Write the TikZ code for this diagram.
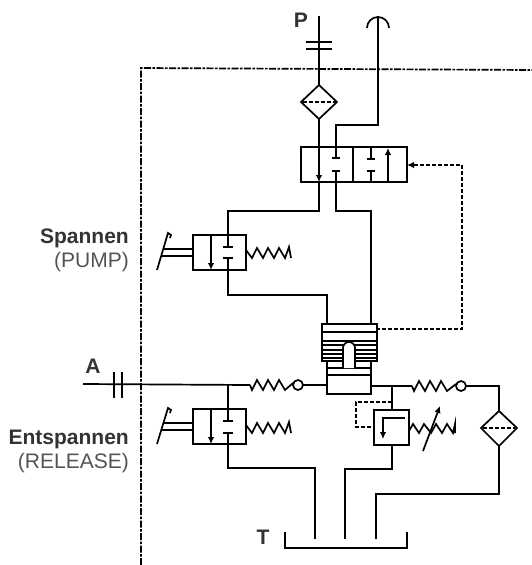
\documentclass[tikz,border=0pt]{standalone}
\usepackage{fontspec}
\setmainfont{Liberation Sans}
\usetikzlibrary{arrows.meta}
\definecolor{labelgray}{gray}{0.2}
\definecolor{notegray}{gray}{0.33}
\tikzset{
    pipe/.style={black, line width=1.7pt, line join=miter},
    pilot/.style={black, line width=1.5pt, dash pattern=on 4pt off 2pt},
    border/.style={black, line width=1.7pt, dash pattern=on 7pt off 1.5pt on 2.5pt off 1.5pt},
    tip/.style={-{Latex[length=7pt,width=6.5pt]}},
    boldlabel/.style={text=labelgray, font=\fontsize{21}{23}\selectfont\bfseries, inner sep=0pt},
    notelabel/.style={text=notegray, font=\fontsize{21}{23}\selectfont, inner sep=0pt}
}
\begin{document}
\begin{tikzpicture}[x=1pt, y=-1pt]
    \useasboundingbox (0,0) rectangle (532,565);
    %Border
    \draw[border] (141,565) -- (141,68) -- (532,70);

    %P line, coupling, filter
    \draw[pipe] (319,16) -- (319,85);
    \draw[pipe] (306,42) -- (332,42);
    \draw[pipe] (306,49) -- (332,49);
    \draw[pipe] (319,85) -- (337,102) -- (319,119) -- (301,102) -- cycle;
    \draw[pilot] (303,102) -- (335,102);
    %Exhaust line
    \draw[pipe] (367,28) arc (180:360:11);
    \draw[pipe] (378,16) -- (378,125) -- (336,125) -- (336,158);

    %Main valve
    \draw[pipe] (301,147) rectangle (407,182);
    \draw[pipe] (353,147) -- (353,182);
    \draw[pipe, tip] (319,119) -- (319,182);
    \draw[pipe] (332,158) -- (340,158);
    \draw[pipe] (332,171) -- (340,171);
    \draw[pipe] (371,147) -- (371,159);
    \draw[pipe] (367,159) -- (375,159);
    \draw[pipe] (367,171) -- (375,171);
    \draw[pipe] (371,171) -- (371,182);
    \draw[pipe, tip] (388,182) -- (388,148);
    \draw[pipe] (319,182) -- (319,211) -- (228,211) -- (228,247);
    \draw[pipe] (336,171) -- (336,211) -- (371,211) -- (371,324);
    %Pilot line
    \draw[pilot, tip] (376,329) -- (462,329) -- (462,165) -- (407,165);

    %Spannen valve
    \draw[pipe] (193,235) rectangle (246,270);
    \draw[pipe, tip] (211,235) -- (211,270);
    \draw[pipe] (223,247) -- (233,247);
    \draw[pipe] (223,258) -- (233,258);
    \draw[pipe] (228,258) -- (228,295) -- (327,295) -- (327,324);
    \draw[pipe] (246,250) -- (252,258) -- (257,248) -- (263,258) -- (268,248) -- (274,258) -- (279,248) -- (285,258) -- (289,247) -- (291,258);
    \draw[pipe] (157,270) -- (168,233) -- (171,235) -- (170,238);
    \draw[pipe] (164,249) -- (193,249);
    \draw[pipe] (162,256) -- (193,256);

    %Cylinder
    \draw[pipe] (322,324) rectangle (377,361);
    \draw[pipe] (322,332) -- (377,332);
    \draw[pipe, line width=2.2pt] (322,341) -- (377,341);
    \draw[pipe] (322,345) -- (377,345);
    \draw[pipe] (322,350) -- (377,350);
    \draw[pipe] (322,354) -- (377,354);
    \draw[pipe] (322,358) -- (377,358);
    \draw[pipe] (327,361) -- (327,394) -- (371,394) -- (371,361);
    \draw[pipe] (327,368) -- (371,368);
    \draw[pipe] (327,375) -- (371,375);
    \draw[pipe, fill=white] (343,368) -- (343,348) arc (180:360:6) -- (355,368);

    %A line
    \draw[pipe] (83,384) -- (250,385);
    \draw[pipe] (114,372) -- (114,398);
    \draw[pipe] (122,372) -- (122,398);
    \draw[pipe] (250,385) -- (252,390) -- (257,380) -- (263,390) -- (268,380) -- (274,390) -- (279,380) -- (285,390) -- (293,383);
    \draw[pipe] (298,385) circle (5);
    \draw[pipe] (303,385) -- (327,385);

    %Entspannen valve
    \draw[pipe] (228,385) -- (228,421);
    \draw[pipe] (193,409) rectangle (246,444);
    \draw[pipe, tip] (211,409) -- (211,444);
    \draw[pipe] (223,421) -- (233,421);
    \draw[pipe] (223,433) -- (233,433);
    \draw[pipe] (228,433) -- (228,468) -- (315,468) -- (315,539);
    \draw[pipe] (246,425) -- (252,433) -- (257,423) -- (263,433) -- (268,423) -- (274,433) -- (279,423) -- (285,433) -- (289,422) -- (291,433);
    \draw[pipe] (157,444) -- (168,408) -- (171,410) -- (170,413);
    \draw[pipe] (164,423) -- (193,423);
    \draw[pipe] (162,430) -- (193,430);

    %Right line with check valve and filter
    \draw[pipe] (371,386) -- (412,386);
    \draw[pipe] (412,386) -- (414,391) -- (419,381) -- (425,391) -- (430,381) -- (436,391) -- (441,381) -- (447,391) -- (456,384);
    \draw[pipe] (461,386) circle (5);
    \draw[pipe] (466,386) -- (499,386) -- (499,411);
    \draw[pipe] (499,411) -- (517,428) -- (499,446) -- (481,428) -- cycle;
    \draw[pilot] (483,428) -- (515,428);
    \draw[pipe] (499,446) -- (499,494) -- (376,494) -- (376,539);

    %Relief valve
    \draw[pipe] (392,386) -- (392,410);
    \draw[pipe] (374,410) rectangle (409,445);
    \draw[pipe, tip] (405,418) -- (383,418) -- (383,439);
    \draw[pipe] (392,445) -- (392,469) -- (345,469) -- (345,539);
    \draw[pilot] (392,402) -- (356,402) -- (356,427) -- (374,427);
    \draw[pipe] (409,431) -- (413,424) -- (419,433) -- (424,424) -- (431,433) -- (436,424) -- (442,433) -- (447,424) -- (453,433) -- (455,424) -- (455,433);
    \draw[pipe, tip] (423,451) -- (440,406);

    %Tank
    \draw[pipe] (285,532) -- (285,548) -- (407,548) -- (407,532);

    %Labels
    \node[boldlabel] (labelP) at (301,20) {P};
    \node[boldlabel] (labelA) at (93,366) {A};
    \node[boldlabel] (labelT) at (263,537) {T};
    \node[boldlabel, anchor=base east] (labelSpannen) at (129,243) {Spannen};
    \node[notelabel, anchor=base east] (labelPump) at (129,267) {(PUMP)};
    \node[boldlabel, anchor=base east] (labelEntspannen) at (129,444) {Entspannen};
    \node[notelabel, anchor=base east] (labelRelease) at (129,468) {(RELEASE)};
\end{tikzpicture}
\end{document}
